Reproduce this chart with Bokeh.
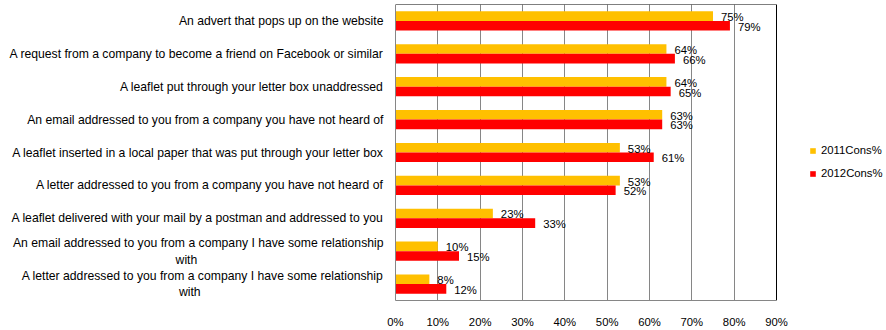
from bokeh.plotting import figure
from bokeh.models import FactorRange, ColumnDataSource, Legend, LegendItem, FixedTicker
from bokeh.transform import dodge
from bokeh.core.properties import value
from bokeh.embed import file_html
from bokeh.resources import INLINE

categories = [
    "An advert that pops up on the website",
    "A request from a company to become a friend on Facebook or similar",
    "A leaflet put through your letter box unaddressed",
    "An email addressed to you from a company you have not heard of",
    "A leaflet inserted in a local paper that was put through your letter box",
    "A letter addressed to you from a company you have not heard of",
    "A leaflet delivered with your mail by a postman and addressed to you",
    "An email addressed to you from a company I have some relationship with",
    "A letter addressed to you from a company I have some relationship with",
]
cons2011 = [75, 64, 64, 63, 53, 53, 23, 10, 8]
cons2012 = [79, 66, 65, 63, 61, 52, 33, 15, 12]
series_names = ["2011Cons%", "2012Cons%"]
x_ticks = [0, 10, 20, 30, 40, 50, 60, 70, 80, 90]

FONT = "Liberation Sans"
NB = "\u00a0"


def wrap(label):
    # long labels wrap onto a second, centred line (as in the original)
    if label.endswith("relationship with"):
        head = label[: -len(" with")]
        pad = 55 if head.startswith("An email") else 54
        return head + "\nwith" + NB * pad
    return label


factors = [wrap(c) for c in categories]

src = ColumnDataSource(dict(
    cat=factors,
    v2011=cons2011,
    v2012=cons2012,
    l2011=[f"{v}%" for v in cons2011],
    l2012=[f"{v}%" for v in cons2012],
))

W, H = 886, 330
LEFT, RIGHT_EDGE = 395, 776
xmax = x_ticks[-1]
x_end = xmax * (W - LEFT) / (RIGHT_EDGE - LEFT)  # frame runs on under the legend

p = figure(width=W, height=H, output_backend="svg", toolbar_location=None,
           y_range=FactorRange(*reversed(factors)), x_range=(0, x_end))
p.min_border_left = LEFT
p.min_border_right = 0
p.min_border_top = 4
p.min_border_bottom = 29
p.outline_line_color = None

off = 0.146
h = 0.292
r1 = p.hbar(y=dodge("cat", off, range=p.y_range), right="v2011", left=0, height=h,
            source=src, fill_color="#FFC000", line_color=None)
r2 = p.hbar(y=dodge("cat", -off, range=p.y_range), right="v2012", left=0, height=h,
            source=src, fill_color="#FF0000", line_color=None)

p.text(x="v2011", y=dodge("cat", off - 0.03, range=p.y_range), text="l2011", source=src,
       x_offset=8, text_baseline="middle", text_align="left",
       text_font=value(FONT), text_font_size="11.3px", text_color="black")
p.text(x="v2012", y=dodge("cat", -off - 0.03, range=p.y_range), text="l2012", source=src,
       x_offset=8, text_baseline="middle", text_align="left",
       text_font=value(FONT), text_font_size="11.3px", text_color="black")

# plot-area border: black top and right edge at the axis maximum
n = len(categories)
p.segment(x0=[0, xmax], y0=[n, 0], x1=[xmax, xmax], y1=[n, n],
          line_color="black", line_width=1)

p.xaxis.ticker = FixedTicker(ticks=x_ticks)
p.xaxis.bounds = (0, xmax)
p.xaxis.major_label_overrides = {t: f"{t}%" for t in x_ticks}
p.xaxis.major_label_text_font = FONT
p.xaxis.major_label_text_font_size = "11.3px"
p.xaxis.major_label_text_color = "black"
p.xaxis.major_label_standoff = 9
p.xaxis.major_tick_line_color = None
p.xaxis.minor_tick_line_color = None
p.xaxis.axis_line_color = "#868686"

p.yaxis.major_label_text_font = FONT
p.yaxis.major_label_text_font_size = "12.2px"
p.yaxis.major_label_text_color = "black"
p.yaxis.major_label_standoff = 6
p.yaxis.major_tick_line_color = None
p.yaxis.minor_tick_line_color = None
p.yaxis.axis_line_color = "#868686"

p.ygrid.grid_line_color = None
p.xgrid.grid_line_color = "#868686"
p.xgrid.ticker = FixedTicker(ticks=x_ticks[1:])

legend = Legend(items=[LegendItem(label=series_names[0], renderers=[r1]),
                       LegendItem(label=series_names[1], renderers=[r2])],
                location=(414, 117))
legend.border_line_color = None
legend.background_fill_alpha = 0
legend.padding = 0
legend.margin = 0
legend.glyph_width = 7
legend.glyph_height = 7
legend.label_height = 20
legend.spacing = 3
legend.label_standoff = 5
legend.label_text_font = FONT
legend.label_text_font_size = "11.3px"
legend.label_text_color = "black"
p.add_layout(legend, "center")

open("out.html", "w").write(file_html(p, INLINE))
